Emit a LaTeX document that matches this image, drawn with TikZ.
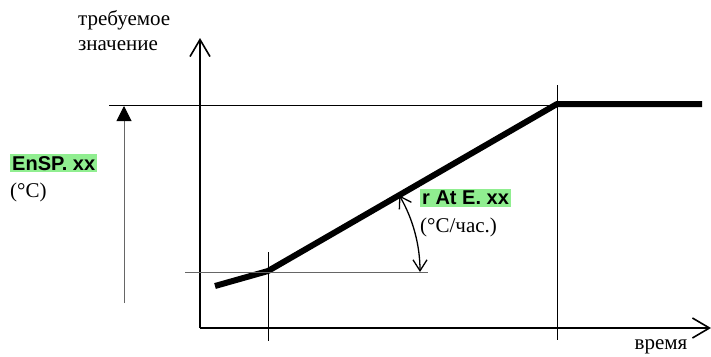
\documentclass[tikz,border=0pt]{standalone}
\usepackage{fontspec}
\setmainfont{Liberation Serif}
\setsansfont{Liberation Sans}
\usepackage{xcolor}
\usetikzlibrary{arrows.meta, positioning}

\definecolor{paramgreen}{RGB}{144,238,144}

\begin{document}
\begin{tikzpicture}[
  x=1pt, y=-1pt,
  axis/.style={draw, line width=2pt, -{Straight Barb[length=17pt, width=20pt, line width=1.6pt]}},
  guide/.style={draw, line width=1pt},
  grayguide/.style={draw, gray!80!black, line width=1pt},
  ramp/.style={draw, line width=6pt, line join=round},
  label/.style={font=\fontsize{21}{25}\selectfont, inner sep=0pt},
  param/.style={font=\fontsize{20}{22}\selectfont\sffamily\bfseries, fill=paramgreen, inner sep=2pt}
]

% frame
\useasboundingbox (0,0) rectangle (711,356);

% axes
\coordinate (origin) at (200,328);
\coordinate (ytip)   at (200,38);
\coordinate (xtip)   at (711,328);
\draw [axis] (origin) -- (ytip);
\draw [axis] (origin) -- (xtip);

% ramp profile
\coordinate (start) at (215,286);
\coordinate (kink)  at (268,271);
\coordinate (top)   at (557,104);
\coordinate (stop)  at (702,104);
\draw [ramp] (start) -- (kink) -- (top) -- (stop);

% helper lines
\coordinate (spl)  at (109,105);
\coordinate (spr)  at (557,105);
\coordinate (v1t)  at (268,252);
\coordinate (v1b)  at (268,341);
\coordinate (v2t)  at (557,85);
\coordinate (v2b)  at (557,340);
\coordinate (hl)   at (185,272);
\coordinate (hr)   at (428,272);
\draw [guide] (spl) -- (spr);
\draw [guide] (v1t) -- (v1b);
\draw [guide] (v2t) -- (v2b);
\draw [grayguide] (hl) -- (hr);

% setpoint arrow
\coordinate (spbase) at (124,303);
\coordinate (sptip)  at (124,106);
\draw [grayguide, -{Triangle[length=15pt, width=15pt, black]}] (spbase) -- (sptip);

% rate angle
\coordinate (arcbot) at (420,272);
\draw [line width=1.3pt, {Straight Barb[length=11pt, width=14pt]}-{Straight Barb[length=11pt, width=14pt]}]
  (arcbot) arc[start angle=0, end angle=-30.3, radius=152];

% labels
\node (ylabel) [label, align=left, anchor=north west] at (78,10) {требуемое\\значение};
\node (xlabel) [label, anchor=center] at (661,347) {время};
\node (ensp)   [param, anchor=north west] at (10,154) {EnSP. xx};
\node (enspu)  [label, anchor=north west] at (10,183) {(°C)};
\node (rate)   [param, anchor=north west] at (420,189) {r At E. xx};
\node (rateu)  [label, anchor=north west] at (420,218) {(°C/час.)};

\end{tikzpicture}
\end{document}
